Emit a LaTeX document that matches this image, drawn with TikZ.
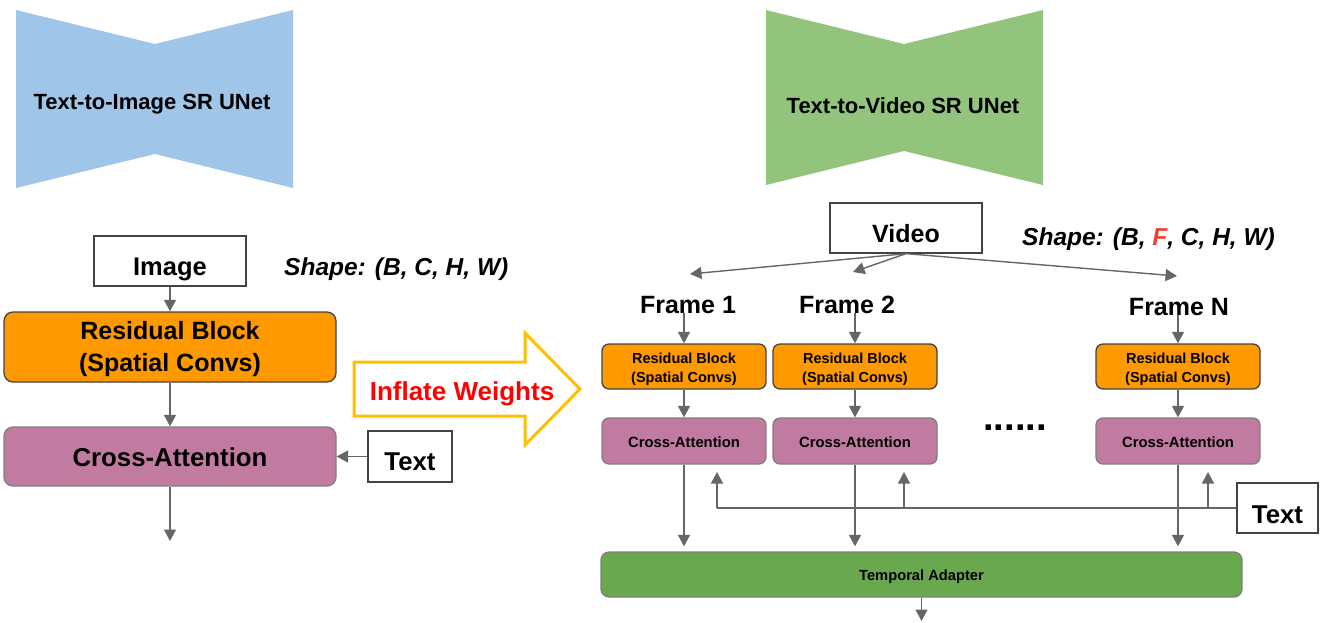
\documentclass[tikz,border=0pt]{standalone}
\usepackage{fontspec}
\setmainfont{Liberation Sans}
\usetikzlibrary{arrows.meta}
\definecolor{hgblue}{HTML}{9FC5E8}
\definecolor{hggreen}{HTML}{93C47D}
\definecolor{resorange}{HTML}{FF9900}
\definecolor{capurple}{HTML}{C27BA0}
\definecolor{tmpgreen}{HTML}{6AA84F}
\definecolor{edgegray}{HTML}{434343}
\definecolor{softgray}{HTML}{7F7F7F}
\definecolor{arrgray}{HTML}{666666}
\definecolor{inflgold}{HTML}{FFC000}
\definecolor{fred}{HTML}{EA4335}
\newcommand{\myfs}[1]{\fontsize{#1}{#1}\selectfont\bfseries}
\begin{document}
\begin{tikzpicture}[x=1pt,y=-1pt,
  arr/.style={draw=arrgray, line width=1.4pt, -{Triangle[length=11.5pt,width=12pt]}},
  feed/.style={draw=arrgray, line width=1.4pt},
  plainbox/.style={draw=edgegray, line width=1.3pt, fill=white, inner sep=0pt, text depth=0pt},
  bigres/.style={rounded corners=9pt, line width=1.3pt, inner sep=0pt, align=center,
    fill=resorange, draw=edgegray, minimum width=332pt, minimum height=70pt,
    font=\fontsize{25}{32}\selectfont\bfseries},
  bigca/.style={rounded corners=9pt, line width=1.3pt, inner sep=0pt,
    fill=capurple, draw=softgray, minimum width=332pt, minimum height=59pt,
    text height=19pt, text depth=0pt, font=\myfs{25.8}},
  smallres/.style={rounded corners=7pt, line width=1.3pt, inner sep=0pt, align=center,
    fill=resorange, draw=edgegray, minimum width=164pt, minimum height=45pt,
    font=\fontsize{14.5}{19}\selectfont\bfseries},
  smallca/.style={rounded corners=7pt, line width=1.3pt, inner sep=0pt,
    fill=capurple, draw=softgray, minimum width=164pt, minimum height=46pt,
    text height=12pt, text depth=0pt, font=\myfs{14.8}},
  framelbl/.style={anchor=base, inner sep=0pt, font=\myfs{25}}
]
\useasboundingbox (0,0) rectangle (1320,622);

% ---------- left: text-to-image ----------
\fill[hgblue] (16,10) -- (155,44) -- (293,10) -- (293,188) -- (155,154) -- (16,188) -- cycle;
\node[anchor=base, inner sep=0pt, font=\myfs{22}] (hgL) at (152,109) {Text-to-Image SR UNet};

\node[plainbox, minimum width=152pt, minimum height=50pt, text height=28pt, font=\myfs{25.5}] (img) at (170,261) {Image};
\node[anchor=base west, inner sep=0pt, font=\myfs{24.5}\itshape] (shL) at (284,275) {Shape: (B, C, H, W)};

\node[bigres] (res) at (170,347) {\rule{0pt}{23pt}Residual Block\\(Spatial Convs)};
\node[bigca] (ca) at (170,456.5) {Cross-Attention};
\node[plainbox, minimum width=84pt, minimum height=51pt, text height=27pt, font=\myfs{25.8}] (txtL) at (410,456.5) {Text};
\coordinate (outL) at (170,541);

\draw[arr] (img) -- (res);
\draw[arr] (res) -- (ca);
\draw[arr] (ca) -- (outL);
\draw[arr] (txtL) -- (ca);

% ---------- inflate arrow ----------
\draw[inflgold, line width=3pt, fill=white] (354,362) -- (525,362) -- (525,333) -- (580,389) -- (525,445) -- (525,416) -- (354,416) -- cycle;
\node[anchor=base, inner sep=0pt, font=\myfs{26}, text=red] (infl) at (462,400) {Inflate Weights};

% ---------- right: text-to-video ----------
\fill[hggreen] (766,10) -- (904,44) -- (1043,10) -- (1043,185) -- (904,151) -- (766,185) -- cycle;
\node[anchor=base, inner sep=0pt, font=\myfs{22}] (hgR) at (903,113) {Text-to-Video SR UNet};

\node[plainbox, minimum width=152pt, minimum height=50pt, text height=28pt, font=\myfs{25}] (vid) at (906,228) {Video};
\node[anchor=base west, inner sep=0pt, font=\myfs{24.5}\itshape] (shR) at (1022,245) {Shape: (B, \textcolor{fred}{F}, C, H, W)};

\coordinate (t1) at (690,274);
\coordinate (t2) at (853,272);
\coordinate (tN) at (1177,276);
\draw[arr] (vid.south) -- (t1);
\draw[arr] (vid.south) -- (t2);
\draw[arr] (vid.south) -- (tN);

\node[framelbl] (f1) at (688,313) {Frame 1};
\node[framelbl] (f2) at (847,313) {Frame 2};
\node[framelbl] (fN) at (1179,315) {Frame N};

\node[smallres] (r1) at (684,366.5) {\rule{0pt}{15pt}Residual Block\\(Spatial Convs)};
\node[smallres] (r2) at (855,366.5) {\rule{0pt}{15pt}Residual Block\\(Spatial Convs)};
\node[smallres] (rN) at (1178,366.5) {\rule{0pt}{15pt}Residual Block\\(Spatial Convs)};

\node[smallca] (c1) at (684,441) {Cross-Attention};
\node[smallca] (c2) at (855,441) {Cross-Attention};
\node[smallca] (cN) at (1178,441) {Cross-Attention};

\node[anchor=base, inner sep=0pt, font=\fontsize{38}{38}\selectfont\bfseries] (dots) at (1015,430) {......};

\draw[arr] (r1.north |- f1.south) -- (r1.north);
\draw[arr] (r2.north |- f2.south) -- (r2.north);
\draw[arr] (rN.north |- fN.south) -- (rN.north);
\draw[arr] (r1) -- (c1);
\draw[arr] (r2) -- (c2);
\draw[arr] (rN) -- (cN);

\node[draw=softgray, fill=tmpgreen, rounded corners=8pt, line width=1.3pt, inner sep=0pt,
  minimum width=641pt, minimum height=45pt, text height=11pt, text depth=0pt, font=\myfs{14.7}] (tmp) at (921.5,574.5) {Temporal Adapter};

\draw[arr, shorten >=5pt] (c1) -- (c1 |- tmp.north);
\draw[arr, shorten >=5pt] (c2) -- (c2 |- tmp.north);
\draw[arr, shorten >=5pt] (cN) -- (cN |- tmp.north);
\coordinate (outR) at (921.5,621);
\draw[arr] (tmp.south) -- (outR);

\node[plainbox, minimum width=81pt, minimum height=50pt, text height=30pt, font=\myfs{25.8}] (txtR) at (1277.5,508) {Text};
\coordinate (j1) at (717,508);
\coordinate (j2) at (904,508);
\coordinate (j3) at (1208,508);
\coordinate (a1) at (717,472);
\coordinate (a2) at (904,472);
\coordinate (a3) at (1208,472);
\draw[feed] (txtR.west) -- (j1);
\draw[arr] (j1) -- (a1);
\draw[arr] (j2) -- (a2);
\draw[arr] (j3) -- (a3);
\end{tikzpicture}
\end{document}
